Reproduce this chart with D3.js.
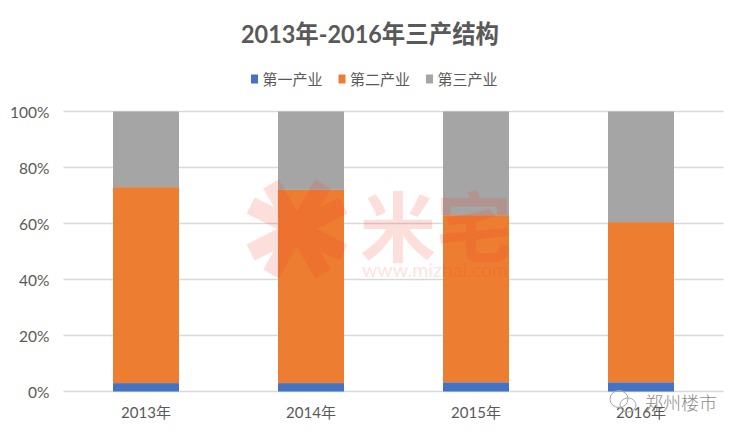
<!DOCTYPE html>
<html><head><meta charset="utf-8">
<script src="https://cdn.jsdelivr.net/npm/d3@7"></script>
<style>
html,body{margin:0;padding:0;background:#fff}
svg{display:block}
text{font-family:Lato,"Noto Sans CJK SC",sans-serif}
</style></head><body>
<svg id="c" width="740" height="436"></svg>
<script>
const titleText = "2013年-2016年三产结构";
const categories = ["2013年","2014年","2015年","2016年"];
const seriesNames = ["第一产业","第二产业","第三产业"];
const colors = ["#4472C4","#ED7D31","#A5A5A5"];
const primary = [3.0,3.0,3.3,3.3];
const secondary = [70.0,69.0,59.7,57.2];
const tertiary = [27.0,28.0,37.0,39.5];
const yTicks = [0,20,40,60,80,100];

const svg = d3.select("#c");
const rows = categories.map((c,i)=>({cat:c,[seriesNames[0]]:primary[i],[seriesNames[1]]:secondary[i],[seriesNames[2]]:tertiary[i]}));
const stacked = d3.stack().keys(seriesNames)(rows);
const x = d3.scaleBand().domain(categories).range([63.5,723.5]).paddingInner(0.6).paddingOuter(0.3);
const y = d3.scaleLinear().domain([0,100]).range([391.5,111.5]);

svg.append("text").attr("x",241).attr("y",43).attr("textLength",258).attr("lengthAdjust","spacingAndGlyphs")
  .attr("font-size",24.5).attr("font-weight",700).attr("fill","#595959").text(titleText);

// legend
const legendX = [251,338.5,426];
seriesNames.forEach((n,i)=>{
  svg.append("rect").attr("x",legendX[i]).attr("y",74.5).attr("width",7).attr("height",9).attr("fill",colors[i]);
  svg.append("text").attr("x",legendX[i]+11.5).attr("y",85).attr("font-size",15).attr("fill","#595959").text(n);
});

// grid and axes
const yAxis = d3.axisLeft(y).tickValues(yTicks).tickFormat(d=>d+"%").tickSize(0).tickPadding(0);
const gy = svg.append("g").attr("transform","translate(49.5,0)").call(yAxis);
gy.select(".domain").remove();
gy.selectAll("text").attr("font-size",15.5).attr("fill","#595959").attr("dy","0.36em");
svg.append("g").selectAll("line").data(yTicks).join("line")
  .attr("x1",63.5).attr("x2",723.5).attr("y1",d=>y(d)).attr("y2",d=>y(d))
  .attr("stroke","#D9D9D9").attr("stroke-width",1.5);

// bars
svg.append("g").selectAll("g").data(stacked).join("g").attr("fill",(d,i)=>colors[i])
  .selectAll("rect").data(d=>d.map(v=>({v,cat:v.data.cat}))).join("rect")
  .attr("x",d=>x(d.cat)).attr("width",x.bandwidth())
  .attr("y",d=>y(d.v[1])).attr("height",d=>y(d.v[0])-y(d.v[1]));

const xAxis = d3.axisBottom(x).tickSize(0).tickPadding(0);
const gx = svg.append("g").attr("transform","translate(0,407)").call(xAxis);
gx.select(".domain").remove();
gx.selectAll("text").attr("font-size",15).attr("fill","#595959").attr("dy","0.71em").attr("y",0);

// watermark logo: eight arms radiating from the centre
const wm = svg.append("g").attr("fill","#F0412D");
const cx=297, cy=229;
const logo = wm.append("g").attr("opacity",0.17);
const arms = [-60,60,120,-120,-27,27,153,-153];
arms.forEach(a=>{
  const t=a*Math.PI/180, ux=Math.cos(t), uy=Math.sin(t), nx=-uy*9, ny=ux*9;
  const p=[[ux*8+nx,uy*8+ny],[ux*52+nx,uy*52+ny],[ux*52-nx,uy*52-ny],[ux*8-nx,uy*8-ny]];
  logo.append("path").attr("d","M"+p.map(q=>(cx+q[0]).toFixed(1)+","+(cy+q[1]).toFixed(1)).join("L")+"Z");
});
logo.append("circle").attr("cx",cx).attr("cy",cy).attr("r",14);
wm.append("text").attr("x",360).attr("y",256).attr("font-size",76).attr("font-weight",700).attr("opacity",0.17).text("米宅");
wm.append("text").attr("x",362).attr("y",277).attr("font-size",19).attr("textLength",146).attr("lengthAdjust","spacingAndGlyphs").attr("opacity",0.14).text("www.mizhai.com");

// corner mark
const cm = svg.append("g").attr("fill","none").attr("stroke","#a8a8a8").attr("stroke-width",1);
cm.append("ellipse").attr("cx",619).attr("cy",399).attr("rx",9).attr("ry",8.5);
cm.append("ellipse").attr("cx",628).attr("cy",405).attr("rx",8).attr("ry",7);
svg.append("text").attr("x",645).attr("y",410).attr("font-size",18).attr("font-weight",300).attr("fill","#6e6e6e").attr("opacity",0.8).text("郑州楼市");
</script>
</body></html>
